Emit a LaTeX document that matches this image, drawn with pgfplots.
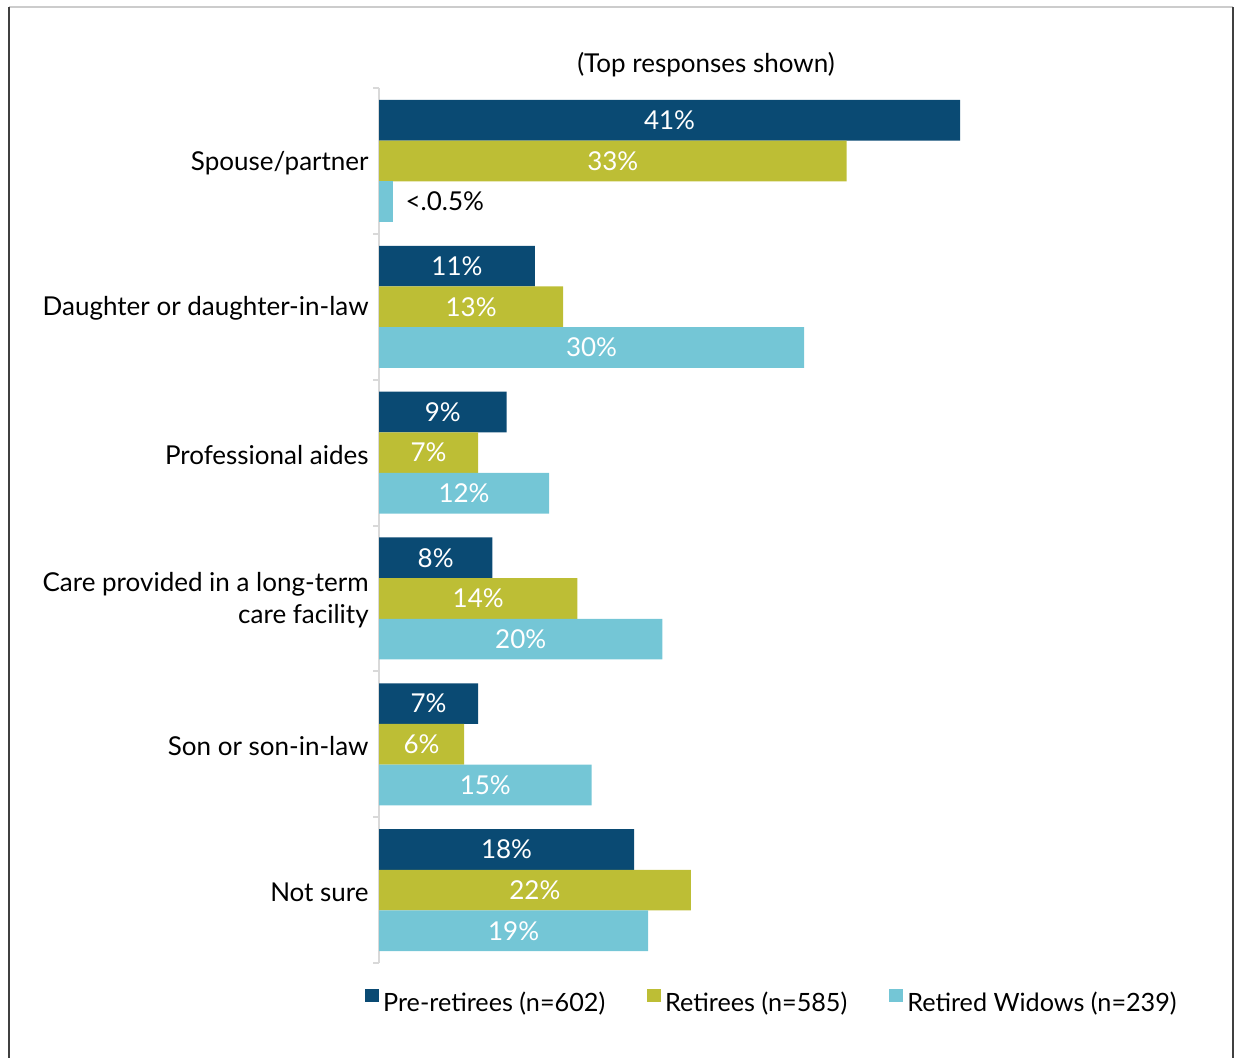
\documentclass[border=0pt]{standalone}
\usepackage{fontspec}
\setmainfont{Lato}
\usepackage{pgfplots}
\pgfplotsset{compat=1.18}
\definecolor{cdark}{RGB}{10,74,115}
\definecolor{colive}{RGB}{189,190,53}
\definecolor{clight}{RGB}{116,198,214}
\definecolor{caxis}{RGB}{217,217,217}
\newcommand{\fs}{\fontsize{13pt}{16pt}\selectfont}
\newcommand{\fl}{\fontsize{12.6pt}{15pt}\selectfont}
\pgfplotsset{
  sqleg/.style={legend image code/.code={\fill[##1,draw=none] (0pt,0.5pt) rectangle (7pt,7pt);}},
  centerlab/.style={
    nodes near coords={\pgfmathprintnumber{\pgfplotspointmeta}\%},
    visualization depends on={x \as \rawx},
    every node near coord/.append style={font=\fs, color=white, anchor=center,
      shift={(axis direction cs:-\rawx/2,0)}}
  }
}
\begin{document}
\begin{tikzpicture}
\path[use as bounding box] (0,0) rectangle (617.5pt,-528.5pt);
\begin{scope}[x=0.5pt,y=-0.5pt]
\draw[line width=1pt, color=black!20] (9,7) -- (1233,7);
\draw[line width=1pt, color=black!75] (9,7) -- (9,1080);
\draw[line width=1pt, color=black!75] (1233,7) -- (1233,1080);
\node[font=\fs] at (706,65) {(Top responses shown)};
\end{scope}
\begin{axis}[
  at={(189.5pt,-481.5pt)}, anchor=south west,
  scale only axis, width=290.5pt, height=437.5pt,
  xmin=0, xmax=41, ymin=0.5, ymax=6.5, y dir=reverse,
  xbar, bar width=0.279,
  hide x axis,
  axis y line=left,
  y axis line style={-, draw=caxis, line width=1pt},
  ytick={1,...,6},
  yticklabels={Spouse/partner, Daughter or daughter-in-law, Professional aides, {Care provided in a long-term\\care facility}, Son or son-in-law, Not sure},
  yticklabel style={font=\fs, align=right, inner sep=0pt, xshift=-5pt, yshift=-1pt},
  major tick length=0pt,
  extra y ticks={0.5,1.5,2.5,3.5,4.5,5.5,6.5},
  extra y tick labels={},
  extra y tick style={major tick length=3pt, tick align=outside, tick style={draw=caxis, line width=1pt}},
  /pgf/number format/.cd, fixed, precision=0, assume math mode=true, /pgfplots/.cd,
  legend style={draw=none, fill=none, at={(0.678,-0.0457)}, anchor=center, legend columns=3, font=\fl, inner sep=0pt,
    /tikz/every even column/.append style={column sep=19pt},
    nodes={inner xsep=2pt, inner ysep=1pt}},
  legend cell align=left,
  clip=false,
]
\addplot[fill=cdark, draw=none, bar shift=-0.279, sqleg, centerlab] coordinates {(41,1) (11,2) (9,3) (8,4) (7,5) (18,6)};
\addlegendentry{Pre-retirees (n=602)}
\addplot[fill=colive, draw=none, bar shift=0, sqleg, centerlab] coordinates {(33,1) (13,2) (7,3) (14,4) (6,5) (22,6)};
\addlegendentry{Retirees (n=585)}
\addplot[fill=clight, draw=none, bar shift=0.279, sqleg, centerlab] coordinates {(30,2) (12,3) (20,4) (15,5) (19,6)};
\addlegendentry{Retired Widows (n=239)}
\addplot[fill=clight, draw=none, bar shift=0.279, forget plot,
  nodes near coords={<.0.5\%},
  every node near coord/.append style={font=\fs, color=black, anchor=west, inner sep=0pt, xshift=6pt}] coordinates {(1,1)};
\end{axis}
\end{tikzpicture}
\end{document}
